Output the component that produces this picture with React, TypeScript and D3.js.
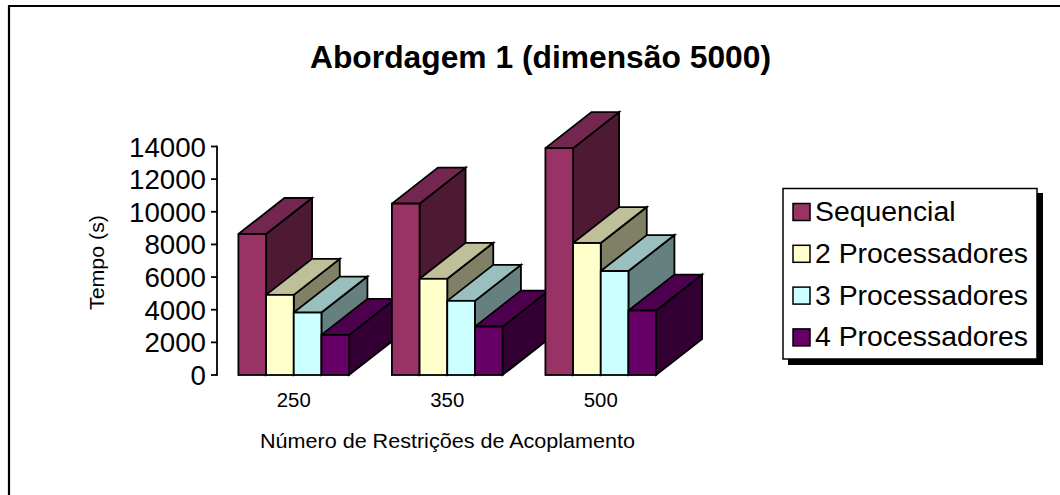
import React from "react";
import * as d3 from "d3";

const categories = ["250", "350", "500"];
const seriesNames = ["Sequencial", "2 Processadores", "3 Processadores", "4 Processadores"];
const sequencial = [8640, 10500, 13900];
const proc2 = [4910, 5895, 8085];
const proc3 = [3826, 4544, 6367];
const proc4 = [2456, 2966, 3948];
const seriesValues = [sequencial, proc2, proc3, proc4];
const frontColors = ["#993366", "#FFFFCC", "#CCFFFF", "#660066"];
const topColors = ["#732650", "#BFBF99", "#99BFBF", "#4D004D"];
const sideColors = ["#4D1933", "#808066", "#668080", "#330033"];
const yTicks = [0, 2000, 4000, 6000, 8000, 10000, 12000, 14000];

const FONT = "'Liberation Sans', Arial, sans-serif";
const DX = 46;
const DY = 36;

export default function App() {
  const y = d3.scaleLinear().domain([0, 14000]).range([375, 146.5]);
  const x0 = d3
    .scaleBand<string>()
    .domain(categories)
    .range([217, 677.5])
    .paddingInner(0.279)
    .paddingOuter(0.1395);
  const x1 = d3
    .scaleBand<number>()
    .domain(d3.range(seriesNames.length))
    .range([0, x0.bandwidth()]);
  const poly = d3.line();
  const sw = 1.8;

  return (
    <svg
      width={1060}
      height={495}
      style={{ position: "absolute", left: 0, top: 0, background: "#fff" }}
      fontFamily={FONT}
    >
      <rect x={0} y={0} width={1060} height={495} fill="#fff" />
      <path d="M9,495V6H1060" fill="none" stroke="#000" strokeWidth={2.2} />

      <text x={540.5} y={68} textAnchor="middle" fontSize={31} fontWeight="bold" textLength={461} lengthAdjust="spacingAndGlyphs">
        Abordagem 1 (dimensão 5000)
      </text>

      <g stroke="#000" strokeWidth={sw}>
        <line x1={217} x2={217} y1={y(14000) - 0.7} y2={y(0) + 0.7} />
        {yTicks.map((t) => (
          <line key={t} x1={211} x2={217} y1={y(t)} y2={y(t)} />
        ))}
      </g>
      {yTicks.map((t) => (
        <text key={t} x={206} y={y(t) + 10} textAnchor="end" fontSize={27.5} textLength={(String(t).length * 77) / 5} lengthAdjust="spacingAndGlyphs">
          {t}
        </text>
      ))}

      <text transform="translate(104,262.5) rotate(-90)" textAnchor="middle" fontSize={20.5} textLength={95} lengthAdjust="spacingAndGlyphs">
        Tempo (s)
      </text>

      {categories.map((c, ci) => (
        <g key={c}>
          {seriesValues.map((vals, si) => {
            const l = x0(c)! + x1(si)!;
            const r = l + x1.bandwidth();
            const t = y(vals[ci]);
            const b = y(0);
            const top = poly([[l, t], [l + DX, t - DY], [r + DX, t - DY], [r, t], [l, t]])!;
            const side = poly([[r, t], [r + DX, t - DY], [r + DX, b - DY], [r, b], [r, t]])!;
            return (
              <g key={si} stroke="#000" strokeWidth={sw} strokeLinejoin="miter">
                <path d={side} fill={sideColors[si]} />
                <path d={top} fill={topColors[si]} />
                <rect x={l} y={t} width={r - l} height={b - t} fill={frontColors[si]} />
              </g>
            );
          })}
          <text x={x0(c)! + x0.bandwidth() / 2} y={407} textAnchor="middle" fontSize={20.5} textLength={34} lengthAdjust="spacingAndGlyphs">
            {c}
          </text>
        </g>
      ))}

      <text x={447.5} y={448} textAnchor="middle" fontSize={20.5} textLength={375} lengthAdjust="spacingAndGlyphs">
        Número de Restrições de Acoplamento
      </text>

      <rect x={788} y={193} width={255} height={172} fill="#000" />
      <rect x={783} y={188.5} width={254} height={170.5} fill="#fff" stroke="#000" strokeWidth={1.5} />
      {seriesNames.map((n, i) => {
        const base = 221 + i * 41.8;
        return (
          <g key={n}>
            <rect x={793} y={base - 17.5} width={17} height={17} fill={frontColors[i]} stroke="#000" strokeWidth={1.5} />
            <text x={815} y={base} fontSize={28.4}>
              {n}
            </text>
          </g>
        );
      })}
    </svg>
  );
}
